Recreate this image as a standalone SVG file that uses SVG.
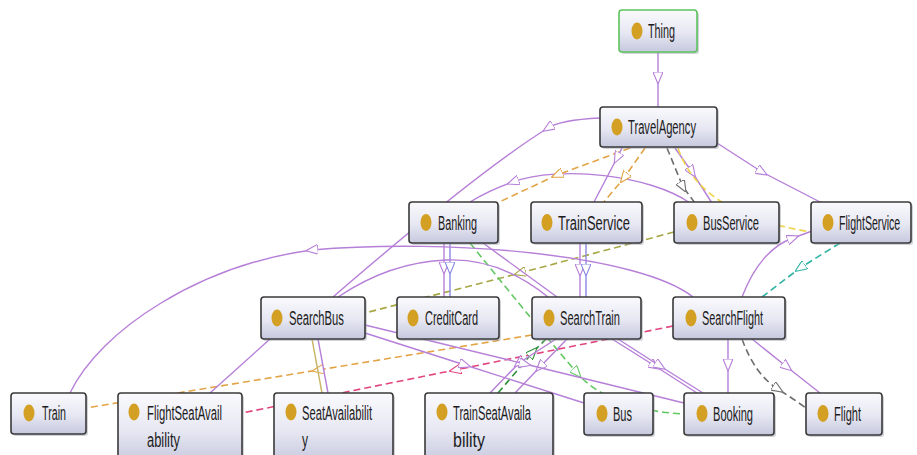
<svg xmlns="http://www.w3.org/2000/svg" width="917" height="455" viewBox="0 0 917 455">
<style>
.box{fill:url(#g);stroke:#3a3a3a;stroke-width:1.6}
.sh{fill:#9a9aa8;opacity:.45}
.dot{fill:#d4a024}
.t{font-family:"Liberation Sans",Arial,sans-serif;font-size:20px;fill:#1c1c1c}
.e{fill:none;stroke-width:1.4}
.p{stroke:#b67fd8}
.b{stroke:#8a8ae6}
.d{stroke-dasharray:7 4;stroke-width:1.6}
.or{stroke:#e3a447}
.gy{stroke:#6e6e6e}
.ye{stroke:#f0d44a}
.ol{stroke:#a7a745}
.te{stroke:#2fb3a3}
.gr{stroke:#62c862}
.dg{stroke:#2f8f3a}
.pk{stroke:#e2457f}
.tn{stroke:#c8b466}
</style>
<defs>
<linearGradient id="g" x1="0" y1="0" x2="0" y2="1">
<stop offset="0" stop-color="#fafafd"/>
<stop offset="0.55" stop-color="#e6e7f2"/>
<stop offset="1" stop-color="#c6c8de"/>
</linearGradient>
<marker id="mp" viewBox="0 0 12 10" refX="6" refY="5" markerWidth="12" markerHeight="10" markerUnits="userSpaceOnUse" orient="auto"><path d="M0,0 L12,5 L0,10 z" fill="#fff" stroke="#b67fd8" stroke-width="1.1"/></marker>
<marker id="mb" viewBox="0 0 12 10" refX="6" refY="5" markerWidth="12" markerHeight="10" markerUnits="userSpaceOnUse" orient="auto"><path d="M0,0 L12,5 L0,10 z" fill="#fff" stroke="#8a8ae6" stroke-width="1.1"/></marker>
<marker id="mo" viewBox="0 0 12 10" refX="6" refY="5" markerWidth="12" markerHeight="10" markerUnits="userSpaceOnUse" orient="auto"><path d="M0,0 L12,5 L0,10 z" fill="#fff" stroke="#e3a447" stroke-width="1.1"/></marker>
<marker id="mg" viewBox="0 0 12 10" refX="6" refY="5" markerWidth="12" markerHeight="10" markerUnits="userSpaceOnUse" orient="auto"><path d="M0,0 L12,5 L0,10 z" fill="#fff" stroke="#6e6e6e" stroke-width="1.1"/></marker>
<marker id="ml" viewBox="0 0 12 10" refX="6" refY="5" markerWidth="12" markerHeight="10" markerUnits="userSpaceOnUse" orient="auto"><path d="M0,0 L12,5 L0,10 z" fill="#fff" stroke="#a7a745" stroke-width="1.1"/></marker>
<marker id="mt" viewBox="0 0 12 10" refX="6" refY="5" markerWidth="12" markerHeight="10" markerUnits="userSpaceOnUse" orient="auto"><path d="M0,0 L12,5 L0,10 z" fill="#fff" stroke="#2fb3a3" stroke-width="1.1"/></marker>
<marker id="mr" viewBox="0 0 12 10" refX="6" refY="5" markerWidth="12" markerHeight="10" markerUnits="userSpaceOnUse" orient="auto"><path d="M0,0 L12,5 L0,10 z" fill="#fff" stroke="#62c862" stroke-width="1.1"/></marker>
<marker id="md" viewBox="0 0 12 10" refX="6" refY="5" markerWidth="12" markerHeight="10" markerUnits="userSpaceOnUse" orient="auto"><path d="M0,0 L12,5 L0,10 z" fill="#fff" stroke="#2f8f3a" stroke-width="1.1"/></marker>
<marker id="mk" viewBox="0 0 12 10" refX="6" refY="5" markerWidth="12" markerHeight="10" markerUnits="userSpaceOnUse" orient="auto"><path d="M0,0 L12,5 L0,10 z" fill="#fff" stroke="#e2457f" stroke-width="1.1"/></marker>
</defs>
<rect width="917" height="455" fill="#fff"/>
<g id="connectors">
<path class="e p" marker-mid="url(#mp)" d="M658,52 L658,78 L658,107"/>
<path class="e p" marker-mid="url(#mp)" d="M600,118 Q560,120 548,128 Q480,170 333,297"/>
<path class="e p" marker-mid="url(#mp)" d="M690,203 C650,175 560,165 513,182 Q490,190 470,202"/>
<path class="e d or" marker-mid="url(#mo)" d="M630,148 L557,175 L497,203"/>
<path class="e d or" marker-mid="url(#mo)" d="M645,148 L624,178 L603,203"/>
<path class="e p" marker-mid="url(#mp)" d="M622,148 L617,158 L594,202"/>
<path class="e d gy" marker-mid="url(#mg)" d="M667,148 L683,187 L695,203"/>
<path class="e p" marker-mid="url(#mp)" d="M675,148 L692,172 L712,203"/>
<path class="e d ye" d="M678,148 Q700,215 812,232"/>
<path class="e p" marker-mid="url(#mp)" d="M717,143 L762,172 L822,203"/>
<path class="e p" marker-mid="url(#mp)" d="M742,297 Q760,250 793,238 L812,231"/>
<path class="e d te" marker-mid="url(#mt)" d="M840,243 L800,268 L762,297"/>
<path class="e d ol" marker-mid="url(#ml)" d="M674,232 L520,273 L365,313"/>
<path class="e p" marker-mid="url(#mp)" d="M444,243 L444,268 L444,297"/>
<path class="e b" marker-mid="url(#mb)" d="M450,243 L450,268 L450,297"/>
<path class="e p" marker-mid="url(#mp)" d="M580,243 L580,270 L580,297"/>
<path class="e b" marker-mid="url(#mb)" d="M586,243 L586,270 L586,297"/>
<path class="e p" d="M483,243 L557,297"/>
<path class="e d gr" marker-mid="url(#mr)" d="M470,243 Q540,330 577,373 Q610,410 684,414"/>
<path class="e p" marker-mid="url(#mp)" d="M693,297 C640,255 450,238 312,250 C200,265 100,330 70,393"/>
<path class="e p" d="M338,297 Q390,262 447,260 Q500,258 548,297"/>
<path class="e d or" marker-mid="url(#mo)" d="M532,335 L318,370 L86,408"/>
<path class="e d pk" marker-mid="url(#mk)" d="M673,326 L455,370 L242,413"/>
<path class="e d dg" marker-mid="url(#md)" d="M498,393 L533,352 L546,339"/>
<path class="e p" marker-mid="url(#mp)" d="M567,339 L540,367 L515,393"/>
<path class="e p" marker-mid="url(#mp)" d="M556,339 L519,363 L490,393"/>
<path class="e p" d="M270,339 L210,393"/>
<path class="e tn" d="M312,339 L322,393"/>
<path class="e p" d="M318,339 L328,393"/>
<path class="e p" marker-mid="url(#mp)" d="M365,333 L465,365 L584,403"/>
<path class="e p" marker-mid="url(#mp)" d="M365,325 L525,364 L684,403"/>
<path class="e p" marker-mid="url(#mp)" d="M612,339 L655,366 L697,393"/>
<path class="e p" marker-mid="url(#mp)" d="M618,339 L660,366 L703,393"/>
<path class="e p" marker-mid="url(#mp)" d="M728,339 L728,365 L728,393"/>
<path class="e d gy" marker-mid="url(#mg)" d="M742,339 Q755,375 778,389 Q792,398 806,408"/>
<path class="e p" marker-mid="url(#mp)" d="M752,339 L787,367 L820,393"/>
</g>
<g id="Thing"><rect class="sh" x="621" y="12" width="78" height="42" rx="3"/><rect class="box" x="619" y="10" width="78" height="42" rx="3" style="stroke:#5cc35c"/><ellipse class="dot" cx="637" cy="31" rx="5.5" ry="8.5"/><text class="t" x="648" y="38" textLength="27" lengthAdjust="spacingAndGlyphs">Thing</text></g>
<g id="TravelAgency"><rect class="sh" x="602" y="109" width="117" height="40" rx="3"/><rect class="box" x="600" y="107" width="117" height="40" rx="3"/><ellipse class="dot" cx="617" cy="127" rx="5.5" ry="8.5"/><text class="t" x="628" y="134" textLength="68" lengthAdjust="spacingAndGlyphs">TravelAgency</text></g>
<g id="Banking"><rect class="sh" x="411" y="204" width="89" height="41" rx="3"/><rect class="box" x="409" y="202" width="89" height="41" rx="3"/><ellipse class="dot" cx="426" cy="222.5" rx="5.5" ry="8.5"/><text class="t" x="438" y="229.5" textLength="39" lengthAdjust="spacingAndGlyphs">Banking</text></g>
<g id="TrainService"><rect class="sh" x="533" y="204" width="111" height="41" rx="3"/><rect class="box" x="531" y="202" width="111" height="41" rx="3"/><ellipse class="dot" cx="547" cy="222.5" rx="5.5" ry="8.5"/><text class="t" x="558" y="229.5" textLength="72" lengthAdjust="spacingAndGlyphs">TrainService</text></g>
<g id="BusService"><rect class="sh" x="676" y="204" width="105" height="41" rx="3"/><rect class="box" x="674" y="202" width="105" height="41" rx="3"/><ellipse class="dot" cx="692" cy="222.5" rx="5.5" ry="8.5"/><text class="t" x="703" y="229.5" textLength="56" lengthAdjust="spacingAndGlyphs">BusService</text></g>
<g id="FlightService"><rect class="sh" x="813" y="204" width="100" height="41" rx="3"/><rect class="box" x="811" y="202" width="100" height="41" rx="3"/><ellipse class="dot" cx="828" cy="222.5" rx="5.5" ry="8.5"/><text class="t" transform="translate(839,229.5) scale(0.53,1)">FlightService</text></g>
<g id="SearchBus"><rect class="sh" x="263" y="299" width="104" height="42" rx="3"/><rect class="box" x="261" y="297" width="104" height="42" rx="3"/><ellipse class="dot" cx="277" cy="318" rx="5.5" ry="8.5"/><text class="t" x="289" y="325" textLength="55" lengthAdjust="spacingAndGlyphs">SearchBus</text></g>
<g id="CreditCard"><rect class="sh" x="399" y="299" width="102" height="42" rx="3"/><rect class="box" x="397" y="297" width="102" height="42" rx="3"/><ellipse class="dot" cx="413" cy="318" rx="5.5" ry="8.5"/><text class="t" x="425" y="325" textLength="53" lengthAdjust="spacingAndGlyphs">CreditCard</text></g>
<g id="SearchTrain"><rect class="sh" x="534" y="299" width="109" height="42" rx="3"/><rect class="box" x="532" y="297" width="109" height="42" rx="3"/><ellipse class="dot" cx="549" cy="318" rx="5.5" ry="8.5"/><text class="t" x="560" y="325" textLength="60" lengthAdjust="spacingAndGlyphs">SearchTrain</text></g>
<g id="SearchFlight"><rect class="sh" x="675" y="299" width="112" height="42" rx="3"/><rect class="box" x="673" y="297" width="112" height="42" rx="3"/><ellipse class="dot" cx="691" cy="318" rx="5.5" ry="8.5"/><text class="t" x="702" y="325" textLength="61" lengthAdjust="spacingAndGlyphs">SearchFlight</text></g>
<g id="Train"><rect class="sh" x="13" y="395" width="75" height="41" rx="3"/><rect class="box" x="11" y="393" width="75" height="41" rx="3"/><ellipse class="dot" cx="29" cy="413" rx="5.5" ry="8.5"/><text class="t" x="42" y="420" textLength="24" lengthAdjust="spacingAndGlyphs">Train</text></g>
<g id="FlightSeatAvailability"><rect class="sh" x="120" y="395" width="124" height="70" rx="3"/><rect class="box" x="118" y="393" width="124" height="70" rx="3"/><ellipse class="dot" cx="134" cy="412" rx="5.5" ry="8.5"/><text class="t" x="147" y="420" textLength="75" lengthAdjust="spacingAndGlyphs">FlightSeatAvail</text><text class="t" x="147" y="447" textLength="33" lengthAdjust="spacingAndGlyphs">ability</text></g>
<g id="SeatAvailability"><rect class="sh" x="276" y="395" width="119" height="70" rx="3"/><rect class="box" x="274" y="393" width="119" height="70" rx="3"/><ellipse class="dot" cx="291" cy="412" rx="5.5" ry="8.5"/><text class="t" x="302" y="420" textLength="70" lengthAdjust="spacingAndGlyphs">SeatAvailabilit</text><text class="t" x="302" y="447" textLength="6" lengthAdjust="spacingAndGlyphs">y</text></g>
<g id="TrainSeatAvailability"><rect class="sh" x="427" y="395" width="128" height="70" rx="3"/><rect class="box" x="425" y="393" width="128" height="70" rx="3"/><ellipse class="dot" cx="442" cy="412" rx="5.5" ry="8.5"/><text class="t" x="453" y="420" textLength="78" lengthAdjust="spacingAndGlyphs">TrainSeatAvaila</text><text class="t" x="453" y="447" textLength="32" lengthAdjust="spacingAndGlyphs">bility</text></g>
<g id="Bus"><rect class="sh" x="586" y="395" width="69" height="42" rx="3"/><rect class="box" x="584" y="393" width="69" height="42" rx="3"/><ellipse class="dot" cx="602" cy="413.5" rx="5.5" ry="8.5"/><text class="t" x="613" y="420.5" textLength="19" lengthAdjust="spacingAndGlyphs">Bus</text></g>
<g id="Booking"><rect class="sh" x="686" y="395" width="90" height="42" rx="3"/><rect class="box" x="684" y="393" width="90" height="42" rx="3"/><ellipse class="dot" cx="702" cy="413.5" rx="5.5" ry="8.5"/><text class="t" x="713" y="420.5" textLength="40" lengthAdjust="spacingAndGlyphs">Booking</text></g>
<g id="Flight"><rect class="sh" x="808" y="395" width="76" height="42" rx="3"/><rect class="box" x="806" y="393" width="76" height="42" rx="3"/><ellipse class="dot" cx="823" cy="413.5" rx="5.5" ry="8.5"/><text class="t" x="834" y="420.5" textLength="27" lengthAdjust="spacingAndGlyphs">Flight</text></g>
</svg>
